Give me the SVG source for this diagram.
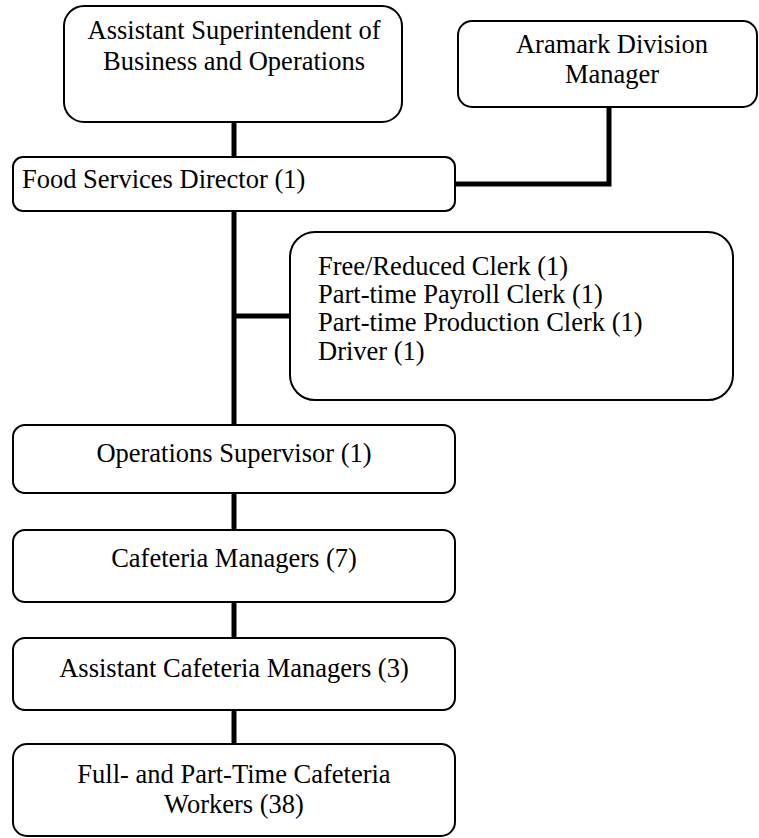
<svg xmlns="http://www.w3.org/2000/svg" width="759" height="838" viewBox="0 0 759 838">
<style>
.box{fill:#fff;stroke:#000;stroke-width:2}
.t{font-family:"Liberation Serif","Times New Roman",serif;font-size:26.5px;fill:#000}
.c{text-anchor:middle}
.conn{fill:none;stroke:#000;stroke-width:5}
</style>
<rect width="759" height="838" fill="#fff"/>
<g id="connectors">
<path class="conn" d="M234 122V157"/>
<path class="conn" d="M234 211V425"/>
<path class="conn" d="M234 316H290"/>
<path class="conn" d="M609 107V184H455"/>
<path class="conn" d="M234 493V530"/>
<path class="conn" d="M234 602V638"/>
<path class="conn" d="M234 710V744"/>
</g>
<g id="asst-superintendent">
<rect class="box" x="64" y="6" width="338" height="116" rx="20"/>
<text class="t c" x="234" y="39">Assistant Superintendent of</text>
<text class="t c" x="234" y="70">Business and Operations</text>
</g>
<g id="aramark">
<rect class="box" x="458" y="21" width="299" height="86" rx="14"/>
<text class="t c" x="612" y="53">Aramark Division</text>
<text class="t c" x="612" y="83">Manager</text>
</g>
<g id="food-services-director">
<rect class="box" x="13" y="157" width="442" height="54" rx="10"/>
<text class="t" x="22" y="188">Food Services Director (1)</text>
</g>
<g id="clerks">
<rect class="box" x="290" y="232" width="443" height="168" rx="25"/>
<text class="t" x="318" y="275">Free/Reduced Clerk (1)</text>
<text class="t" x="318" y="303">Part-time Payroll Clerk (1)</text>
<text class="t" x="318" y="331">Part-time Production Clerk (1)</text>
<text class="t" x="318" y="360">Driver (1)</text>
</g>
<g id="operations-supervisor">
<rect class="box" x="13" y="425" width="442" height="68" rx="12"/>
<text class="t c" x="234" y="462">Operations Supervisor (1)</text>
</g>
<g id="cafeteria-managers">
<rect class="box" x="13" y="530" width="442" height="72" rx="12"/>
<text class="t c" x="234" y="567">Cafeteria Managers (7)</text>
</g>
<g id="asst-cafeteria-managers">
<rect class="box" x="13" y="638" width="442" height="72" rx="12"/>
<text class="t c" x="234" y="677">Assistant Cafeteria Managers (3)</text>
</g>
<g id="cafeteria-workers">
<rect class="box" x="13" y="744" width="442" height="92" rx="14"/>
<text class="t c" x="234" y="783">Full- and Part-Time Cafeteria</text>
<text class="t c" x="234" y="813">Workers (38)</text>
</g>
</svg>
